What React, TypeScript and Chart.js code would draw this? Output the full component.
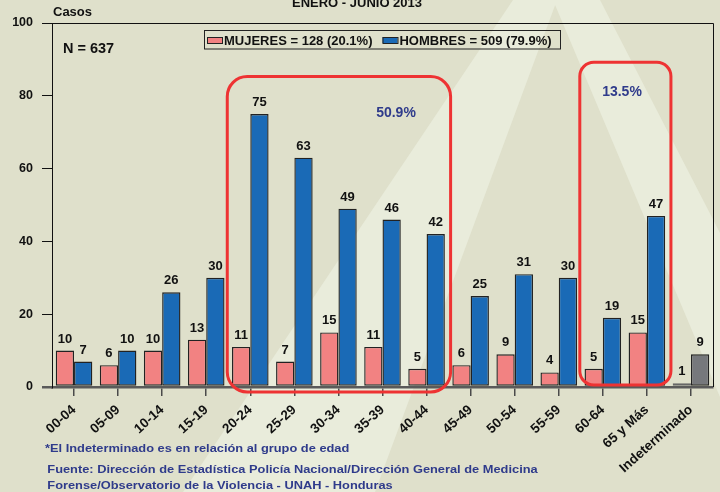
import React, { useEffect, useRef } from "react";
import { Chart, registerables } from "chart.js";

Chart.register(...registerables);

// ---------- DATA ----------
const categories = [
  "00-04", "05-09", "10-14", "15-19", "20-24", "25-29", "30-34", "35-39",
  "40-44", "45-49", "50-54", "55-59", "60-64", "65 y Más", "Indeterminado",
];
const mujeres = [10, 6, 10, 13, 11, 7, 15, 11, 5, 6, 9, 4, 5, 15, 1];
const hombres = [7, 10, 26, 30, 75, 63, 49, 46, 42, 25, 31, 30, 19, 47, 9];
const seriesLabels = ["MUJERES = 128 (20.1%)", "HOMBRES = 509 (79.9%)"];
const yTicks = [0, 20, 40, 60, 80, 100];
const highlightRanges = [
  [4, 8],
  [12, 13],
];
const highlightLabels = ["50.9%", "13.5%"];
const titleText = "ENERO - JUNIO 2013";
const yAxisTitle = "Casos";
const totalLabel = "N = 637";
const footnotes = [
  "*El Indeterminado es en relación al grupo de edad",
  "Fuente: Dirección de Estadística Policía Nacional/Dirección General de Medicina",
  "Forense/Observatorio de la Violencia - UNAH - Honduras",
];

// ---------- STYLE ----------
const FONT = '"Liberation Sans", Arial, Helvetica, sans-serif';
const PINK = "#f28282";
const BLUE = "#1a6ab6";
const GRAY = "#76787c";
const WHITEISH = "#f1f1ea";
const NAVY = "#2f3b8b";
const RED = "#ee3333";

const lastIdx = categories.length - 1;
const mujeresColors = categories.map((_, i) => (i === lastIdx ? WHITEISH : PINK));
const hombresColors = categories.map((_, i) => (i === lastIdx ? GRAY : BLUE));
const mujeresBorders = categories.map((_, i) => (i === lastIdx ? "#666" : "#222"));

function roundRectPath(ctx: CanvasRenderingContext2D, x: number, y: number, w: number, h: number, r: number) {
  ctx.beginPath();
  ctx.moveTo(x + r, y);
  ctx.lineTo(x + w - r, y);
  ctx.arcTo(x + w, y, x + w, y + r, r);
  ctx.lineTo(x + w, y + h - r);
  ctx.arcTo(x + w, y + h, x + w - r, y + h, r);
  ctx.lineTo(x + r, y + h);
  ctx.arcTo(x, y + h, x, y + h - r, r);
  ctx.lineTo(x, y + r);
  ctx.arcTo(x, y, x + r, y, r);
  ctx.closePath();
}

function stretchedText(
  ctx: CanvasRenderingContext2D, text: string, x: number, y: number,
  font: string, sx: number, color: string, align: CanvasTextAlign = "left"
) {
  ctx.save();
  ctx.font = font;
  ctx.fillStyle = color;
  ctx.textAlign = align;
  ctx.textBaseline = "alphabetic";
  ctx.translate(x, y);
  ctx.scale(sx, 1);
  ctx.fillText(text, 0, 0);
  ctx.restore();
}

const bgPlugin = {
  id: "bgPlugin",
  beforeDraw(chart: any) {
    const { ctx, width, height } = chart;
    ctx.save();
    ctx.fillStyle = "#dfe0cb";
    ctx.fillRect(0, 0, width, height);
    ctx.fillStyle = "#e9ecdb";
    ctx.beginPath();
    ctx.moveTo(513, 0);
    ctx.lineTo(557, 0);
    ctx.lineTo(375, height);
    ctx.lineTo(183, height);
    ctx.closePath();
    ctx.moveTo(553, 0);
    ctx.lineTo(600, 0);
    ctx.lineTo(width, 233);
    ctx.lineTo(width, 397);
    ctx.closePath();
    ctx.fill();
    ctx.restore();
  },
};

const overlayPlugin = {
  id: "overlayPlugin",
  afterDatasetsDraw(chart: any) {
    const { ctx, chartArea, scales } = chart;
    const xs = scales.x;
    const ys = scales.y;
    ctx.save();
    // frame top + right
    ctx.strokeStyle = "#111";
    ctx.lineWidth = 1;
    ctx.beginPath();
    ctx.moveTo(Math.round(chartArea.left) + 0.5, Math.round(chartArea.top) + 0.5);
    ctx.lineTo(Math.round(chartArea.right) + 0.5, Math.round(chartArea.top) + 0.5);
    ctx.lineTo(Math.round(chartArea.right) + 0.5, Math.round(chartArea.bottom));
    ctx.stroke();

    // data labels
    ctx.fillStyle = "#111";
    ctx.font = `bold 13px ${FONT}`;
    ctx.textAlign = "center";
    ctx.textBaseline = "alphabetic";
    chart.data.datasets.forEach((ds: any, di: number) => {
      const meta = chart.getDatasetMeta(di);
      meta.data.forEach((bar: any, j: number) => {
        ctx.fillText(String(ds.data[j]), bar.x, bar.y - 8);
      });
    });

    // highlight boxes
    const boxGeom = [
      { top: ys.getPixelForValue(85.3), bottom: ys.getPixelForValue(0) + 5, r: 20, tx: 396, ty: 117 },
      { top: ys.getPixelForValue(89.2), bottom: ys.getPixelForValue(0) - 2, r: 14, tx: 622, ty: 96 },
    ];
    highlightRanges.forEach((rng, k) => {
      const g = boxGeom[k];
      const half = (xs.getPixelForValue(1) - xs.getPixelForValue(0)) / 2;
      const left = xs.getPixelForValue(rng[0]) - half - 1;
      const right = xs.getPixelForValue(rng[1]) + half + 2;
      ctx.strokeStyle = RED;
      ctx.lineWidth = 3;
      roundRectPath(ctx, left, g.top, right - left, g.bottom - g.top, g.r);
      ctx.stroke();
      ctx.fillStyle = NAVY;
      ctx.font = `bold 14px ${FONT}`;
      ctx.textAlign = "center";
      ctx.fillText(highlightLabels[k], g.tx, g.ty);
    });
    ctx.restore();
  },
  afterDraw(chart: any) {
    const { ctx } = chart;
    ctx.save();
    // title (cut at top)
    ctx.fillStyle = "#111";
    ctx.font = `bold 13px ${FONT}`;
    ctx.textAlign = "center";
    ctx.textBaseline = "alphabetic";
    ctx.fillText(titleText, 357, 7);
    // y axis title
    ctx.textAlign = "left";
    ctx.fillText(yAxisTitle, 53, 15.5);
    // N
    ctx.font = `bold 14.5px ${FONT}`;
    ctx.fillText(totalLabel, 63, 52.5);

    // legend
    ctx.strokeStyle = "#222";
    ctx.lineWidth = 1;
    ctx.strokeRect(204.5, 30.5, 356, 18.5);
    ctx.font = `bold 13px ${FONT}`;
    let x = 207;
    chart.data.datasets.forEach((ds: any) => {
      ctx.fillStyle = ds.legendColor;
      ctx.fillRect(x, 37, 15, 6);
      ctx.strokeStyle = "#222";
      ctx.strokeRect(x + 0.5, 37.5, 15, 6);
      ctx.fillStyle = "#111";
      ctx.fillText(ds.label, x + 17, 45);
      x += 17 + ctx.measureText(ds.label).width + 10;
    });

    // footnotes
    stretchedText(ctx, footnotes[0], 45, 451.7, `bold 10.7px ${FONT}`, 1.2, NAVY);
    stretchedText(ctx, footnotes[1], 47.3, 472.7, `bold 10.7px ${FONT}`, 1.2, NAVY);
    stretchedText(ctx, footnotes[2], 47.3, 489.3, `bold 10.7px ${FONT}`, 1.2, NAVY);
    ctx.restore();
  },
};

export default function App() {
  const canvasRef = useRef<HTMLCanvasElement | null>(null);

  useEffect(() => {
    document.body.style.margin = "0";
    const canvas = canvasRef.current;
    if (!canvas) return;
    Chart.defaults.font.family = FONT;
    const chart = new Chart(canvas, {
      type: "bar",
      data: {
        labels: categories,
        datasets: [
          {
            label: seriesLabels[0],
            data: mujeres,
            backgroundColor: mujeresColors,
            borderColor: mujeresBorders,
            borderWidth: 1.4,
            borderSkipped: false,
            categoryPercentage: 0.83,
            barPercentage: 1.0,
            legendColor: PINK,
          } as any,
          {
            label: seriesLabels[1],
            data: hombres,
            backgroundColor: hombresColors,
            borderColor: "#222",
            borderWidth: 1.4,
            borderSkipped: false,
            categoryPercentage: 0.83,
            barPercentage: 1.0,
            legendColor: BLUE,
          } as any,
        ],
      },
      options: {
        responsive: false,
        animation: false,
        devicePixelRatio: 1,
        layout: { padding: { top: 23, right: 7, left: 0, bottom: 0 } },
        plugins: {
          legend: { display: false },
          title: { display: false },
          tooltip: { enabled: false },
        },
        scales: {
          x: {
            grid: {
              display: true,
              drawOnChartArea: false,
              drawTicks: true,
              tickLength: 9,
              offset: false,
              color: "#4a4a4a",
              lineWidth: 1.5,
            },
            border: { display: true, color: "#5a5a5a", width: 2.5 },
            ticks: {
              autoSkip: false,
              minRotation: 42,
              maxRotation: 42,
              color: "#111",
              font: { size: 13.5, weight: "bold" },
              padding: 6,
            },
            afterFit: (s: any) => {
              s.height = 105;
            },
          } as any,
          y: {
            min: 0,
            max: 100,
            afterBuildTicks: (s: any) => {
              s.ticks = yTicks.map((v) => ({ value: v }));
            },
            ticks: {
              color: "#111",
              font: { size: 12.5, weight: "bold" },
              padding: 9,
            },
            grid: {
              drawOnChartArea: false,
              drawTicks: true,
              tickLength: 10,
              color: (c: any) => (c.tick && c.tick.value === 0 ? "#5a5a5a" : "#111"),
              lineWidth: (c: any) => (c.tick && c.tick.value === 0 ? 2.5 : 1),
            },
            border: { display: true, color: "#111", width: 1 },
            afterFit: (s: any) => {
              s.width = 52;
            },
          } as any,
        },
      },
      plugins: [bgPlugin, overlayPlugin],
    });
    return () => chart.destroy();
  }, []);

  return (
    <div style={{ width: 720, height: 492 }}>
      <canvas ref={canvasRef} width={720} height={492} style={{ display: "block" }} />
    </div>
  );
}
